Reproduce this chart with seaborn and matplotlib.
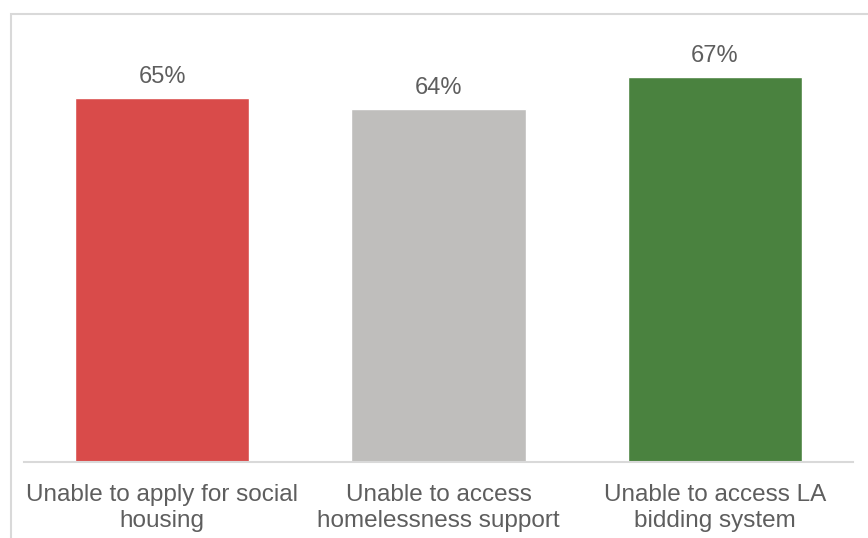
import matplotlib
matplotlib.use("Agg")
import matplotlib.pyplot as plt
import seaborn as sns
import pandas as pd
from matplotlib.patches import Rectangle

categories = ["Unable to apply for social\nhousing",
              "Unable to access\nhomelessness support",
              "Unable to access LA\nbidding system"]
values = [65, 64, 67]
colors = ["#D94B4A", "#BFBEBC", "#4A823F"]

sns.set_theme(style="white")
plt.rcParams['font.family'] = ['Liberation Sans', 'DejaVu Sans']

W, H = 868, 538
fig = plt.figure(figsize=(W / 100, H / 100), dpi=100)
ax = fig.add_axes([24 / W, (H - 462) / H, (853 - 24) / W, (462 - 40) / H])

df = pd.DataFrame({"cat": categories, "val": values})
sns.barplot(data=df, x="cat", y="val", hue="cat", palette=colors,
            width=0.63, legend=False, ax=ax, saturation=1)

ax.set_xlim(-0.5, 2.5)
ax.set_ylim(30.5, 70.5)
for c in ax.containers:
    ax.bar_label(c, fmt="%d%%", padding=7, fontsize=17, color="#5E5E5E")

ax.set_xlabel("")
ax.set_ylabel("")
ax.set_yticks([])
ax.tick_params(axis="x", length=0, labelsize=17.5, labelcolor="#5E5E5E", pad=16)
for lab in ax.get_xticklabels():
    lab.set_linespacing(1.2)
for s in ["top", "left", "right"]:
    ax.spines[s].set_visible(False)
ax.spines["bottom"].set_color("#D9D9D9")
ax.spines["bottom"].set_linewidth(1.5)

fig.add_artist(Rectangle((11 / W, -0.1), 1.2, (H - 14) / H + 0.1,
                         transform=fig.transFigure, fill=False,
                         edgecolor="#D9D9D9", linewidth=1.5))

fig.savefig("out.png", dpi=100)
